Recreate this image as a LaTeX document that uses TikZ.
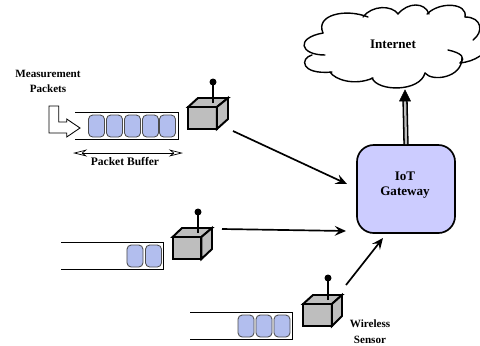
\documentclass[tikz,border=0pt]{standalone}
\usepackage{fontspec}
\setmainfont{Liberation Serif}
\usetikzlibrary{arrows.meta}
\tikzset{every node/.style={font=\fontsize{7.9}{9}\selectfont\bfseries, inner sep=0pt},
 cell/.style={draw=black!70, fill=cellblue, rounded corners=3pt, line width=.6pt, minimum width=.4cm, minimum height=.55cm},
 face/.style={draw=black, line width=1.4pt, fill=sensorgray, line join=miter},
 front/.style={face, outer sep=0pt, minimum width=.72cm, minimum height=.55cm},
 flow/.style={line width=1.2pt, -{Stealth[length=8pt, width=7pt, inset=3pt]}},
 wall/.style={line width=.6pt},
 puff/.style={line width=1pt, line cap=round},
 }
\definecolor{cellblue}{RGB}{178,190,238}
\definecolor{sensorgray}{RGB}{190,190,190}
\definecolor{gatefill}{RGB}{204,204,255}

\begin{document}
\begin{tikzpicture}[x=.025cm, y=-.025cm]
    \useasboundingbox (0, 0) rectangle (480, 345);

    % cloud
    \draw[puff] (325, 55) .. controls (300, 55) and (295, 38) .. (323, 33);
    \draw[puff] (323, 33) .. controls (315, 15) and (345, 8) .. (368, 17);
    \draw[puff] (363, 17) .. controls (372, 5) and (392, 5) .. (398, 14);
    \draw[puff] (398, 14) .. controls (408, 2) and (425, 2) .. (429, 14);
    \draw[puff] (427, 14) .. controls (440, 1) and (468, 3) .. (465, 17);
    \draw[puff] (465, 17) .. controls (482, 17) and (484, 32) .. (473, 40);
    \draw[puff] (448, 50) .. controls (462, 53) and (466, 58) .. (460, 63);
    \draw[puff] (460, 63) .. controls (468, 62) and (474, 60) .. (480, 56);
    \draw[puff] (462, 58) .. controls (462, 78) and (432, 82) .. (425, 73);
    \draw[puff] (425, 73) .. controls (420, 92) and (378, 92) .. (372, 78);
    \draw[puff] (373, 78) .. controls (355, 86) and (335, 80) .. (330, 72);
    \draw[puff] (332, 72) .. controls (300, 75) and (300, 58) .. (312, 55);
    \node[font=\fontsize{9.3}{11}\selectfont\bfseries] (internet) at (393, 44) {Internet};
    \coordinate (cloudfoot) at (405, 90);

    % gateway
    \node[draw, line width=1.2pt, fill=gatefill, rounded corners=.42cm, minimum width=2.45cm, minimum height=2.2cm] (gateway) at (406, 189) {};
    \node[align=center, font=\fontsize{9.3}{10.8}\selectfont\bfseries] (gatelabel) at (405, 185) {IoT\\Gateway};
    \draw[line width=3.8pt] (gateway.north) -- (405, 99);
    \draw[line width=1.6pt, draw=black!25] (gateway.north) -- (405, 99);
    \draw[fill=black] (cloudfoot) -- (410.5, 101) -- (399.5, 101) -- cycle;

    % first buffer
    \draw[wall] (75, 112) -- (178, 112) -- (178, 139) -- (75, 139);
    \node[cell] (c1a) at (96.5, 126) {};
    \node[cell] (c1b) at (114.5, 126) {};
    \node[cell] (c1c) at (132.5, 126) {};
    \node[cell] (c1d) at (150.5, 126) {};
    \node[cell] (c1e) at (167.5, 126) {};
    \draw[line width=.6pt] (49, 106) -- (58.7, 106) -- (58.7, 122) -- (66.7, 122) -- (66.7, 119) -- (80, 128) -- (66.7, 137) -- (66.7, 133) -- (49, 133) -- cycle;
    \node (measure) at (48, 74) {Measurement};
    \node (packets) at (48, 89) {Packets};
    \coordinate (leftend) at (73, 153);
    \coordinate (rightend) at (183, 153);
    \draw[line width=.5pt, {Stealth[open, length=10pt, width=5pt, inset=3pt]}-{Stealth[open, length=10pt, width=5pt, inset=3pt]}] (leftend) -- (rightend);
    \node[font=\fontsize{8.2}{9}\selectfont\bfseries] (buffername) at (125, 162) {Packet Buffer};

    % first sensor
    \node[front] (s1) at (202.5, 118) {};
    \draw[face] (s1.north west) -- (198, 98) -- (228, 98) -- (s1.north east) -- cycle;
    \draw[face] (s1.north east) -- (228, 98) -- (228, 119) -- (s1.south east) -- cycle;
    \draw[line width=1.1pt] (213, 103) -- (213, 82);
    \fill (213, 82) circle (3.5);
    \coordinate (s1out) at (233, 131);
    \coordinate (gatein1) at (347, 184);
    \draw[flow] (s1out) -- (gatein1);

    % second buffer
    \draw[wall] (61, 242) -- (163, 242) -- (163, 269) -- (61, 269);
    \node[cell] (c2a) at (135, 256) {};
    \node[cell] (c2b) at (153.5, 256) {};

    % second sensor
    \node[front] (s2) at (187, 248) {};
    \draw[face] (s2.north west) -- (182, 228) -- (212, 228) -- (s2.north east) -- cycle;
    \draw[face] (s2.north east) -- (212, 228) -- (212, 249) -- (s2.south east) -- cycle;
    \draw[line width=1.1pt] (198, 233) -- (198, 212);
    \fill (198, 212) circle (3.5);
    \coordinate (s2out) at (222, 229);
    \coordinate (gatein2) at (346, 231);
    \draw[flow] (s2out) -- (gatein2);

    % third buffer
    \draw[wall] (190, 312) -- (292, 312) -- (292, 339) -- (190, 339);
    \node[cell] (c3a) at (246, 326) {};
    \node[cell] (c3b) at (264, 326) {};
    \node[cell] (c3c) at (282, 326) {};

    % third sensor
    \node[front] (s3) at (317.5, 315) {};
    \draw[face] (s3.north west) -- (313, 295) -- (342, 295) -- (s3.north east) -- cycle;
    \draw[face] (s3.north east) -- (342, 295) -- (342, 316) -- (s3.south east) -- cycle;
    \draw[line width=1.1pt] (328, 300) -- (328, 278);
    \fill (328, 278) circle (3.5);
    \coordinate (s3out) at (346, 285);
    \coordinate (gatein3) at (383, 238);
    \draw[flow] (s3out) -- (gatein3);
    \node (wireless) at (370, 324) {Wireless};
    \node (sensor) at (370, 340) {Sensor};
\end{tikzpicture}
\end{document}
